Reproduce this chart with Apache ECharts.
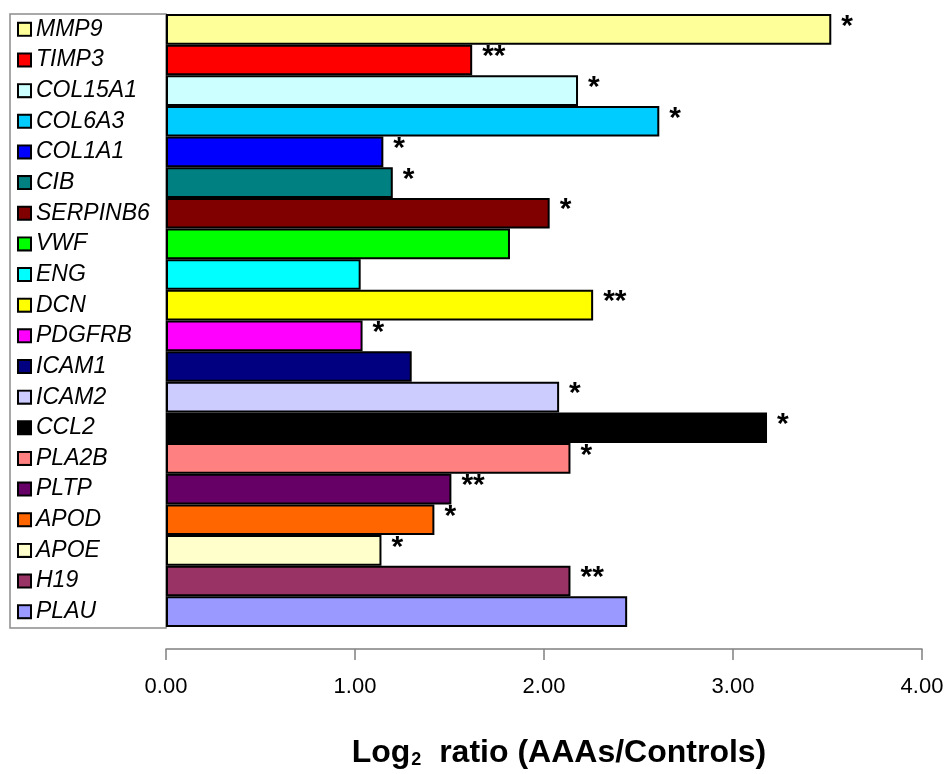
<!DOCTYPE html>
<html>
<head>
<meta charset="utf-8">
<script src="https://cdn.jsdelivr.net/npm/echarts@6/dist/echarts.min.js"></script>
<style>
  html, body { margin: 0; padding: 0; background: #fff; }
  #chart { width: 949px; height: 774px; }
</style>
</head>
<body>
<div id="chart"></div>
<script>
const genes = ['MMP9', 'TIMP3', 'COL15A1', 'COL6A3', 'COL1A1', 'CIB', 'SERPINB6', 'VWF', 'ENG', 'DCN',
  'PDGFRB', 'ICAM1', 'ICAM2', 'CCL2', 'PLA2B', 'PLTP', 'APOD', 'APOE', 'H19', 'PLAU'];
const ratios = [3.52, 1.62, 2.18, 2.61, 1.15, 1.20, 2.03, 1.82, 1.03, 2.26,
  1.04, 1.30, 2.08, 3.18, 2.14, 1.51, 1.42, 1.14, 2.14, 2.44];
const significance = ['*', '**', '*', '*', '*', '*', '*', '', '', '**',
  '*', '', '*', '*', '*', '**', '*', '*', '**', ''];
const barColors = ['#FFFF99', '#FF0000', '#CCFFFF', '#00CCFF', '#0000FF', '#008080', '#800000', '#00FF00', '#00FFFF', '#FFFF00',
  '#FF00FF', '#000080', '#CCCCFF', '#000000', '#FF8080', '#660066', '#FF6600', '#FFFFCC', '#993366', '#9999FF'];
const tickLabels = ['0.00', '1.00', '2.00', '3.00', '4.00'];

const font = "'Liberation Sans', Arial, sans-serif";

// one rich style per legend square
const rich = {
  t: { fontSize: 23, fontStyle: 'italic', color: '#000', fontFamily: font, padding: [0, 0, 0, 6] }
};
barColors.forEach((c, i) => {
  rich['s' + i] = { width: 11, height: 11, backgroundColor: c, borderColor: '#000', borderWidth: 2 };
});

const chart = echarts.init(document.getElementById('chart'));

const option = {
  animation: false,
  grid: { left: 166, right: 27, top: 14, bottom: 146, containLabel: false },
  xAxis: {
    type: 'value',
    min: 0,
    max: 4,
    interval: 1,
    offset: 22,
    axisLine: { show: true, lineStyle: { color: '#808080', width: 1.5 } },
    axisTick: { show: true, length: 11, lineStyle: { color: '#808080', width: 1.5 } },
    splitLine: { show: false },
    axisLabel: {
      margin: 27,
      fontSize: 22,
      color: '#000',
      fontFamily: font,
      formatter: v => tickLabels[Math.round(v)]
    },
    name: '{b|Log}{sub|2}{b|  ratio (AAAs/Controls)}',
    nameLocation: 'middle',
    nameGap: 88,
    nameTextStyle: {
      padding: [0, 0, 0, 30],
      rich: {
        b: { fontSize: 32, fontWeight: 'bold', color: '#000', fontFamily: font },
        sub: { fontSize: 18, fontWeight: 'bold', color: '#000', fontFamily: font, padding: [14, 0, 0, 1] }
      }
    }
  },
  yAxis: {
    type: 'category',
    inverse: true,
    data: genes,
    axisLine: { show: false },
    axisTick: { show: false },
    axisLabel: {
      align: 'left',
      margin: 147,
      formatter: (v, i) => '{s' + i + '|}{t|' + v + '}',
      rich: rich
    }
  },
  graphic: [{
    type: 'rect',
    shape: { x: 10, y: 14, width: 156, height: 614 },
    style: { fill: 'none', stroke: '#8c8c8c', lineWidth: 1.5 },
    z: 0
  }],
  series: [{
    type: 'bar',
    barCategoryGap: 0,
    data: ratios.map((v, i) => ({ value: v, itemStyle: { color: barColors[i] } })),
    itemStyle: { borderColor: '#000', borderWidth: 2 },
    label: {
      show: true,
      position: 'right',
      distance: 10,
      offset: [0, -3],
      fontSize: 30,
      fontWeight: 'bold',
      color: '#000',
      fontFamily: font,
      formatter: p => significance[p.dataIndex]
    }
  }]
};

chart.setOption(option);
</script>
</body>
</html>
